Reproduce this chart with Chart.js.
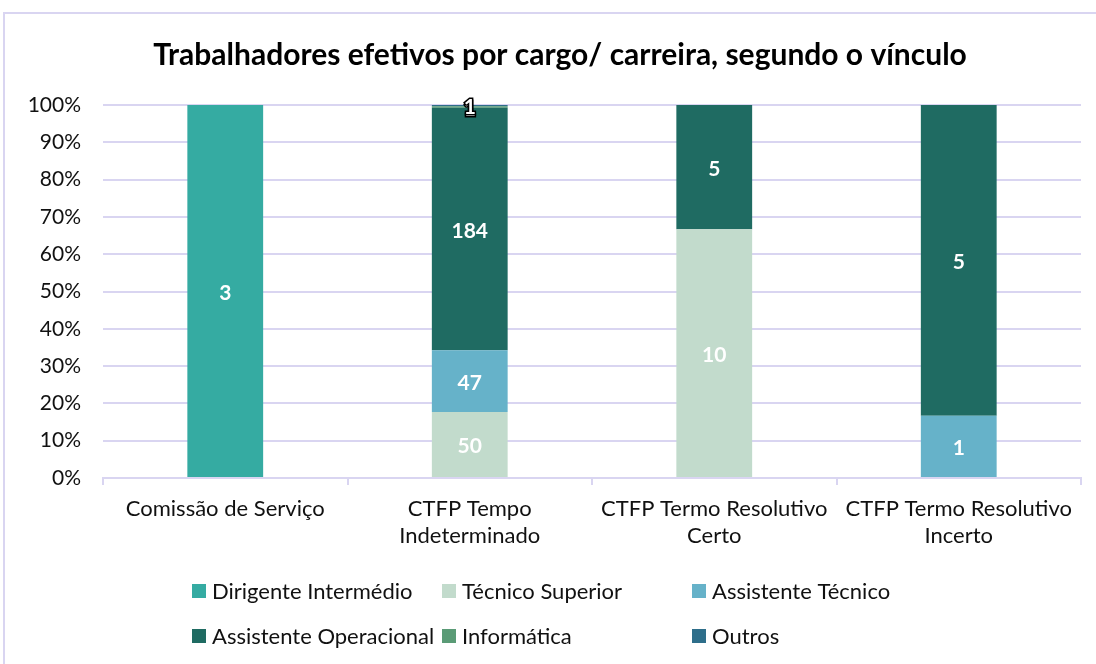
<!DOCTYPE html>
<html><head><meta charset="utf-8">
<script src="https://cdn.jsdelivr.net/npm/chart.js@4/dist/chart.umd.min.js"></script>
<style>
html,body{margin:0;padding:0;background:#fff;}
#wrap{position:relative;width:1096px;height:664px;}
#frame{position:absolute;left:3px;top:12px;width:1200px;height:800px;border:2px solid #d9d5f1;box-sizing:border-box;pointer-events:none;}
canvas{position:absolute;left:0;top:0;}
</style></head>
<body>
<div id="wrap"><canvas id="c" width="1096" height="664"></canvas><div id="frame"></div></div>
<script>
const categories = [["Comissão de Serviço"], ["CTFP Tempo", "Indeterminado"], ["CTFP Termo Resolutivo", "Certo"], ["CTFP Termo Resolutivo", "Incerto"]];
const seriesNames = ["Dirigente Intermédio", "Técnico Superior", "Assistente Técnico", "Assistente Operacional", "Informática", "Outros"];
const dirigente = [3, 0, 0, 0];
const tecnicoSuperior = [0, 50, 10, 0];
const assistenteTecnico = [0, 47, 0, 1];
const assistenteOperacional = [0, 184, 5, 5];
const informatica = [0, 1, 0, 0];
const outros = [0, 1, 0, 0];
const yTicks = [0, 10, 20, 30, 40, 50, 60, 70, 80, 90, 100];
const colors = ["#35aba2", "#c2dbcc", "#66b2c9", "#1f6b62", "#5a9b76", "#2e6e8a"];

const counts = [dirigente, tecnicoSuperior, assistenteTecnico, assistenteOperacional, informatica, outros];
const totals = categories.map((_, i) => counts.reduce((s, a) => s + a[i], 0));
const FONT = "Lato, 'Open Sans', sans-serif";
const GRID = "#d9d5f1";

const datasets = counts.map((arr, k) => ({
  label: seriesNames[k],
  data: arr.map((v, i) => v / totals[i] * 100),
  counts: arr,
  backgroundColor: colors[k],
  borderWidth: 0,
  categoryPercentage: 1,
  barPercentage: 0.31
}));

const labelPlugin = {
  id: 'vals',
  afterDatasetsDraw(chart) {
    const ctx = chart.ctx;
    ctx.save();
    ctx.font = "bold 21px " + FONT;
    ctx.textAlign = 'center';
    ctx.textBaseline = 'middle';
    chart.data.datasets.forEach((ds, di) => {
      const meta = chart.getDatasetMeta(di);
      meta.data.forEach((bar, i) => {
        const v = ds.counts[i];
        if (!v) return;
        const y = (bar.y + bar.base) / 2;
        const small = Math.abs(bar.base - bar.y) < 10;
        if (small) {
          ctx.lineWidth = 3;
          ctx.strokeStyle = '#000';
          ctx.strokeText(String(v), bar.x, y + 2);
        }
        ctx.fillStyle = '#fff';
        ctx.fillText(String(v), bar.x, y + 2);
      });
    });
    ctx.restore();
  }
};

const legendPlugin = {
  id: 'gridLegend',
  afterDraw(chart) {
    const ctx = chart.ctx;
    ctx.save();
    ctx.font = "22px " + FONT;
    ctx.textBaseline = 'middle';
    ctx.textAlign = 'left';
    const colX = [192, 442, 692];
    const rowY = [591, 636];
    chart.data.datasets.forEach((ds, k) => {
      const x = colX[k % 3], y = rowY[Math.floor(k / 3)];
      ctx.fillStyle = ds.backgroundColor;
      ctx.fillRect(x, y - 7, 14, 14);
      ctx.fillStyle = '#111';
      ctx.fillText(ds.label, x + 20, y + 1);
    });
    ctx.restore();
  }
};

const titlePlugin = {
  id: 'ttl',
  afterDraw(chart) {
    const ctx = chart.ctx;
    ctx.save();
    ctx.font = "bold 30px " + FONT;
    ctx.fillStyle = '#000';
    ctx.textAlign = 'center';
    ctx.textBaseline = 'middle';
    ctx.fillText("Trabalhadores efetivos por cargo/ carreira, segundo o vínculo", 560, 55);
    ctx.restore();
  }
};

new Chart(document.getElementById('c'), {
  type: 'bar',
  data: { labels: categories, datasets },
  plugins: [labelPlugin, legendPlugin, titlePlugin],
  options: {
    responsive: false,
    animation: false,
    layout: { padding: { top: 105, left: 0, right: 15, bottom: 0 } },
    plugins: { legend: { display: false }, title: { display: false }, tooltip: { enabled: false } },
    scales: {
      x: {
        stacked: true,
        afterFit(s) { s.height = 186; },
        grid: { display: true, drawOnChartArea: false, drawTicks: true, tickLength: 7, color: GRID, lineWidth: 2, offset: true },
        border: { display: true, color: GRID, width: 2 },
        ticks: { color: '#111', font: { family: FONT, size: 22 }, padding: 11, maxRotation: 0, autoSkip: false }
      },
      y: {
        stacked: true,
        min: 0, max: 100,
        afterFit(s) { s.width = 103; },
        afterBuildTicks(s) { s.ticks = yTicks.map(v => ({ value: v })); },
        grid: { color: GRID, lineWidth: 2, drawTicks: false },
        border: { display: false },
        ticks: { color: '#111', font: { family: FONT, size: 21 }, padding: 22, callback: v => v + '%' }
      }
    }
  }
});
</script>
</body></html>
